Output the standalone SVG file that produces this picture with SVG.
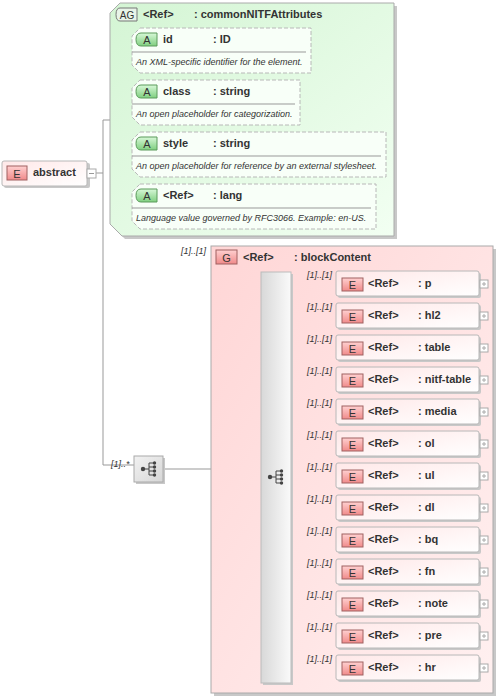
<svg xmlns="http://www.w3.org/2000/svg" width="500" height="699" viewBox="0 0 500 699">
<defs>
<linearGradient id="gAG" x1="0" y1="0" x2="1" y2="1"><stop offset="0" stop-color="#d4f5d4"/><stop offset="1" stop-color="#f2fff2"/></linearGradient>
<linearGradient id="gGrp" x1="0" y1="0" x2="1" y2="1"><stop offset="0" stop-color="#ffd6d6"/><stop offset="1" stop-color="#fff0f0"/></linearGradient>
<linearGradient id="gEl" x1="0" y1="0" x2="1" y2="1"><stop offset="0" stop-color="#ffe8e8"/><stop offset="1" stop-color="#ffffff"/></linearGradient>
<linearGradient id="gE" x1="0" y1="0" x2="0" y2="1"><stop offset="0" stop-color="#ffd0d0"/><stop offset="1" stop-color="#f08a8a"/></linearGradient>
<linearGradient id="gA" x1="0" y1="0" x2="0" y2="1"><stop offset="0" stop-color="#d8f8d8"/><stop offset="1" stop-color="#7fcf7f"/></linearGradient>
<linearGradient id="gBar" x1="0" y1="0" x2="1" y2="0"><stop offset="0" stop-color="#d8d8d8"/><stop offset="1" stop-color="#fafafa"/></linearGradient>
<linearGradient id="gCh" x1="0" y1="0" x2="1" y2="1"><stop offset="0" stop-color="#f2f2f2"/><stop offset="1" stop-color="#d6d6d6"/></linearGradient>
<g id="chIcon">
<circle cx="-6" cy="0" r="2.2" fill="#444"/>
<path d="M-6,0 H0 M0,-6 V6 M0,-6 H5 M0,-2 H5 M0,2 H5 M0,6 H5" stroke="#444" stroke-width="1" fill="none"/>
<circle cx="5.5" cy="-6" r="1.7" fill="#444"/><circle cx="5.5" cy="-2" r="1.7" fill="#444"/><circle cx="5.5" cy="2" r="1.7" fill="#444"/><circle cx="5.5" cy="6" r="1.7" fill="#444"/>
</g>
</defs>
<style>
text{font-family:"Liberation Sans",Arial,sans-serif;fill:#333}
.b{font-weight:bold;font-size:11px}
.d{font-style:italic;font-size:9px}
.m{font-style:italic;font-size:9px}
.badge{font-size:11px;fill:#333}
.ln{stroke:#999;stroke-width:1;fill:none}
.sh{fill:#c8c8c8}
.el{fill:url(#gEl);stroke:#b8b8b8;stroke-width:1}
.eb{fill:url(#gE);stroke:#a06060;stroke-width:1}
.ab{fill:url(#gA);stroke:#5a9a5a;stroke-width:1}
.att{fill:#f8fff8;stroke:#b8b8b8;stroke-width:1;stroke-dasharray:4,2}
.pm{fill:#fff;stroke:#aaa;stroke-width:1}
</style>

<g id="connectors">
<path class="ln" d="M96,173 H103 M103,120 V465 H134 M103,120 H122 M122,52 V208 M122,52 H132 M122,104 H132 M122,156 H132 M122,208 H132"/>
<path class="ln" d="M163,469 H211 M211,477 H261"/>
<text class="m" x="111" y="467">[1]..*</text>
<text class="m" x="232" y="474">[1]..[1]</text>
<text class="m" x="181" y="254">[1]..[1]</text>
<path class="ln" d="M291,280 H336 M291,312 H336 M291,344 H336 M291,376 H336 M291,408 H336 M291,440 H336 M291,472 H336 M291,504 H336 M291,536 H336 M291,568 H336 M291,600 H336 M291,632 H336 M291,664 H336"/>
</g>

<g id="abstract">
<rect class="sh" x="4" y="163" width="86" height="25" rx="2"/>
<rect class="el" x="2" y="161" width="85" height="25" rx="2"/>
<rect class="eb" x="7" y="166" width="20" height="14"/>
<text class="badge" x="17" y="177.5" text-anchor="middle">E</text>
<text class="b" x="33" y="176">abstract</text>
<rect class="pm" x="87" y="169" width="9" height="9"/>
<path d="M89,173.5 H94" stroke="#999"/>
</g>

<g id="commonNITFAttributes">
<path class="sh" d="M122,6 H397 V239 H125 L113,227 V16 Z"/>
<path d="M120,3 H394 V236 H122 L110,224 V13 Z" fill="url(#gAG)" stroke="#aaa"/>
<path d="M120,8 H137 V21 H120 Q116,21 116,14.5 Q116,8 120,8 Z" fill="#e8f4e8" stroke="#777"/>
<text class="badge" x="127" y="18.5" text-anchor="middle" style="font-size:10px">AG</text>
<text class="b" x="143" y="18">&lt;Ref&gt;</text>
<text class="b" x="194" y="18">: commonNITFAttributes</text>
</g>

<g id="attr-id">
<path class="att" d="M140,28 H311 V73 H140 L132,65 V36 Z"/>
<path class="ab" d="M141,33 H157 V46 H141 Q136,46 136,39.5 Q136,33 141,33 Z"/>
<text class="badge" x="147" y="44" text-anchor="middle">A</text>
<text class="b" x="163" y="43">id</text>
<text class="b" x="213" y="43">: ID</text>
<path d="M132,52 H306" stroke="#999"/>
<text class="d" x="136" y="65">An XML-specific identifier for the element.</text>
</g>

<g id="attr-class">
<path class="att" d="M140,80 H300 V125 H140 L132,117 V88 Z"/>
<path class="ab" d="M141,85 H157 V98 H141 Q136,98 136,91.5 Q136,85 141,85 Z"/>
<text class="badge" x="147" y="96" text-anchor="middle">A</text>
<text class="b" x="163" y="95">class</text>
<text class="b" x="213" y="95">: string</text>
<path d="M132,104 H295" stroke="#999"/>
<text class="d" x="136" y="117">An open placeholder for categorization.</text>
</g>

<g id="attr-style">
<path class="att" d="M140,132 H386 V177 H140 L132,169 V140 Z"/>
<path class="ab" d="M141,137 H157 V150 H141 Q136,150 136,143.5 Q136,137 141,137 Z"/>
<text class="badge" x="147" y="148" text-anchor="middle">A</text>
<text class="b" x="163" y="147">style</text>
<text class="b" x="213" y="147">: string</text>
<path d="M132,156 H381" stroke="#999"/>
<text class="d" x="136" y="169">An open placeholder for reference by an external stylesheet.</text>
</g>

<g id="attr-lang">
<path class="att" d="M140,184 H376 V229 H140 L132,221 V192 Z"/>
<path class="ab" d="M141,189 H157 V202 H141 Q136,202 136,195.5 Q136,189 141,189 Z"/>
<text class="badge" x="147" y="200" text-anchor="middle">A</text>
<text class="b" x="163" y="199">&lt;Ref&gt;</text>
<text class="b" x="213" y="199">: lang</text>
<path d="M132,208 H371" stroke="#999"/>
<text class="d" x="136" y="221">Language value governed by RFC3066. Example: en-US.</text>
</g>

<g id="choice-outer">
<rect class="sh" x="136" y="458" width="29" height="26"/>
<rect x="134" y="456" width="29" height="26" fill="url(#gCh)" stroke="#aaa"/>
<use href="#chIcon" x="149" y="469"/>
</g>

<g id="blockContent">
<rect class="sh" x="214" y="249" width="282" height="447"/>
<rect x="211" y="246" width="282" height="447" fill="url(#gGrp)" stroke="#aaa"/>
<rect class="eb" x="216" y="250" width="21" height="14"/>
<text class="badge" x="226.5" y="261.5" text-anchor="middle">G</text>
<text class="b" x="243" y="261">&lt;Ref&gt;</text>
<text class="b" x="294" y="261">: blockContent</text>
</g>

<g id="choice-inner">
<rect class="sh" x="263" y="274" width="30" height="411"/>
<rect x="261" y="272" width="30" height="411" fill="url(#gBar)" stroke="#bbb"/>
<use href="#chIcon" x="276" y="477"/>
</g>

<g id="el-p"><text class="m" x="307" y="278">[1]..[1]</text><rect class="sh" x="338" y="273" width="143" height="25" rx="2"/><rect class="el" x="336" y="271" width="143" height="25" rx="2"/><rect class="eb" x="342" y="278" width="21" height="13"/><text class="badge" x="352.5" y="289" text-anchor="middle">E</text><text class="b" x="368" y="287">&lt;Ref&gt;</text><text class="b" x="418" y="287">: p</text><rect class="pm" x="480" y="280" width="8" height="8"/><path d="M482,284 H486 M484,282 V286" stroke="#aaa"/></g>
<g id="el-hl2"><text class="m" x="307" y="310">[1]..[1]</text><rect class="sh" x="338" y="305" width="143" height="25" rx="2"/><rect class="el" x="336" y="303" width="143" height="25" rx="2"/><rect class="eb" x="342" y="310" width="21" height="13"/><text class="badge" x="352.5" y="321" text-anchor="middle">E</text><text class="b" x="368" y="319">&lt;Ref&gt;</text><text class="b" x="418" y="319">: hl2</text><rect class="pm" x="480" y="312" width="8" height="8"/><path d="M482,316 H486 M484,314 V318" stroke="#aaa"/></g>
<g id="el-table"><text class="m" x="307" y="342">[1]..[1]</text><rect class="sh" x="338" y="337" width="143" height="25" rx="2"/><rect class="el" x="336" y="335" width="143" height="25" rx="2"/><rect class="eb" x="342" y="342" width="21" height="13"/><text class="badge" x="352.5" y="353" text-anchor="middle">E</text><text class="b" x="368" y="351">&lt;Ref&gt;</text><text class="b" x="418" y="351">: table</text><rect class="pm" x="480" y="344" width="8" height="8"/><path d="M482,348 H486 M484,346 V350" stroke="#aaa"/></g>
<g id="el-nitf-table"><text class="m" x="307" y="374">[1]..[1]</text><rect class="sh" x="338" y="369" width="143" height="25" rx="2"/><rect class="el" x="336" y="367" width="143" height="25" rx="2"/><rect class="eb" x="342" y="374" width="21" height="13"/><text class="badge" x="352.5" y="385" text-anchor="middle">E</text><text class="b" x="368" y="383">&lt;Ref&gt;</text><text class="b" x="418" y="383">: nitf-table</text><rect class="pm" x="480" y="376" width="8" height="8"/><path d="M482,380 H486 M484,378 V382" stroke="#aaa"/></g>
<g id="el-media"><text class="m" x="307" y="406">[1]..[1]</text><rect class="sh" x="338" y="401" width="143" height="25" rx="2"/><rect class="el" x="336" y="399" width="143" height="25" rx="2"/><rect class="eb" x="342" y="406" width="21" height="13"/><text class="badge" x="352.5" y="417" text-anchor="middle">E</text><text class="b" x="368" y="415">&lt;Ref&gt;</text><text class="b" x="418" y="415">: media</text><rect class="pm" x="480" y="408" width="8" height="8"/><path d="M482,412 H486 M484,410 V414" stroke="#aaa"/></g>
<g id="el-ol"><text class="m" x="307" y="438">[1]..[1]</text><rect class="sh" x="338" y="433" width="143" height="25" rx="2"/><rect class="el" x="336" y="431" width="143" height="25" rx="2"/><rect class="eb" x="342" y="438" width="21" height="13"/><text class="badge" x="352.5" y="449" text-anchor="middle">E</text><text class="b" x="368" y="447">&lt;Ref&gt;</text><text class="b" x="418" y="447">: ol</text><rect class="pm" x="480" y="440" width="8" height="8"/><path d="M482,444 H486 M484,442 V446" stroke="#aaa"/></g>
<g id="el-ul"><text class="m" x="307" y="470">[1]..[1]</text><rect class="sh" x="338" y="465" width="143" height="25" rx="2"/><rect class="el" x="336" y="463" width="143" height="25" rx="2"/><rect class="eb" x="342" y="470" width="21" height="13"/><text class="badge" x="352.5" y="481" text-anchor="middle">E</text><text class="b" x="368" y="479">&lt;Ref&gt;</text><text class="b" x="418" y="479">: ul</text><rect class="pm" x="480" y="472" width="8" height="8"/><path d="M482,476 H486 M484,474 V478" stroke="#aaa"/></g>
<g id="el-dl"><text class="m" x="307" y="502">[1]..[1]</text><rect class="sh" x="338" y="497" width="143" height="25" rx="2"/><rect class="el" x="336" y="495" width="143" height="25" rx="2"/><rect class="eb" x="342" y="502" width="21" height="13"/><text class="badge" x="352.5" y="513" text-anchor="middle">E</text><text class="b" x="368" y="511">&lt;Ref&gt;</text><text class="b" x="418" y="511">: dl</text><rect class="pm" x="480" y="504" width="8" height="8"/><path d="M482,508 H486 M484,506 V510" stroke="#aaa"/></g>
<g id="el-bq"><text class="m" x="307" y="534">[1]..[1]</text><rect class="sh" x="338" y="529" width="143" height="25" rx="2"/><rect class="el" x="336" y="527" width="143" height="25" rx="2"/><rect class="eb" x="342" y="534" width="21" height="13"/><text class="badge" x="352.5" y="545" text-anchor="middle">E</text><text class="b" x="368" y="543">&lt;Ref&gt;</text><text class="b" x="418" y="543">: bq</text><rect class="pm" x="480" y="536" width="8" height="8"/><path d="M482,540 H486 M484,538 V542" stroke="#aaa"/></g>
<g id="el-fn"><text class="m" x="307" y="566">[1]..[1]</text><rect class="sh" x="338" y="561" width="143" height="25" rx="2"/><rect class="el" x="336" y="559" width="143" height="25" rx="2"/><rect class="eb" x="342" y="566" width="21" height="13"/><text class="badge" x="352.5" y="577" text-anchor="middle">E</text><text class="b" x="368" y="575">&lt;Ref&gt;</text><text class="b" x="418" y="575">: fn</text><rect class="pm" x="480" y="568" width="8" height="8"/><path d="M482,572 H486 M484,570 V574" stroke="#aaa"/></g>
<g id="el-note"><text class="m" x="307" y="598">[1]..[1]</text><rect class="sh" x="338" y="593" width="143" height="25" rx="2"/><rect class="el" x="336" y="591" width="143" height="25" rx="2"/><rect class="eb" x="342" y="598" width="21" height="13"/><text class="badge" x="352.5" y="609" text-anchor="middle">E</text><text class="b" x="368" y="607">&lt;Ref&gt;</text><text class="b" x="418" y="607">: note</text><rect class="pm" x="480" y="600" width="8" height="8"/><path d="M482,604 H486 M484,602 V606" stroke="#aaa"/></g>
<g id="el-pre"><text class="m" x="307" y="630">[1]..[1]</text><rect class="sh" x="338" y="625" width="143" height="25" rx="2"/><rect class="el" x="336" y="623" width="143" height="25" rx="2"/><rect class="eb" x="342" y="630" width="21" height="13"/><text class="badge" x="352.5" y="641" text-anchor="middle">E</text><text class="b" x="368" y="639">&lt;Ref&gt;</text><text class="b" x="418" y="639">: pre</text><rect class="pm" x="480" y="632" width="8" height="8"/><path d="M482,636 H486 M484,634 V638" stroke="#aaa"/></g>
<g id="el-hr"><text class="m" x="307" y="662">[1]..[1]</text><rect class="sh" x="338" y="657" width="143" height="25" rx="2"/><rect class="el" x="336" y="655" width="143" height="25" rx="2"/><rect class="eb" x="342" y="662" width="21" height="13"/><text class="badge" x="352.5" y="673" text-anchor="middle">E</text><text class="b" x="368" y="671">&lt;Ref&gt;</text><text class="b" x="418" y="671">: hr</text><rect class="pm" x="480" y="664" width="8" height="8"/><path d="M482,668 H486 M484,666 V670" stroke="#aaa"/></g>
</svg>
